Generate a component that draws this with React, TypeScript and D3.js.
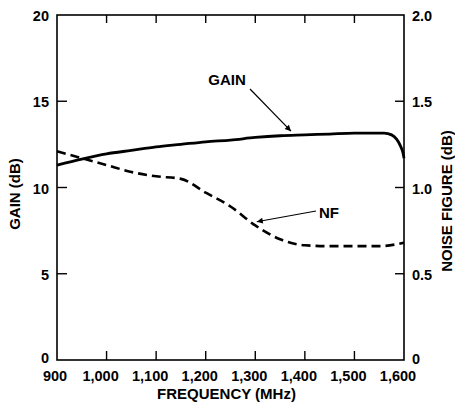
import React, { useEffect, useRef } from "react";
import * as d3 from "d3";

// frequency (MHz) and gain (dB)
const gainFreq = [900, 950, 1000, 1050, 1100, 1150, 1200, 1250, 1300, 1350, 1400, 1450, 1500, 1560, 1575, 1585, 1593, 1598, 1600];
const gainVals = [11.3, 11.65, 11.95, 12.15, 12.35, 12.5, 12.65, 12.75, 12.9, 13.0, 13.05, 13.1, 13.15, 13.15, 13.05, 12.8, 12.4, 12.0, 11.7];

// noise figure (dB), right axis
const nfFreq = [900, 950, 1000, 1050, 1100, 1150, 1200, 1250, 1300, 1350, 1400, 1450, 1500, 1550, 1600];
const nfVals = [1.21, 1.17, 1.13, 1.09, 1.065, 1.05, 0.97, 0.89, 0.78, 0.7, 0.665, 0.66, 0.66, 0.66, 0.68];

const freqTicks = [900, 1000, 1100, 1200, 1300, 1400, 1500, 1600];
const gainTicks = [0, 5, 10, 15, 20];
const nfTicks = [0, 0.5, 1.0, 1.5, 2.0];

const FONT = "'Liberation Sans', Arial, Helvetica, sans-serif";

export default function App() {
  const ref = useRef<SVGSVGElement>(null);

  useEffect(() => {
    const svg = d3.select(ref.current);
    svg.selectAll("*").remove();

    const left = 57, right = 404, top = 15, bottom = 360;

    const x = d3.scaleLinear().domain([900, 1600]).range([left, right]);
    const yG = d3.scaleLinear().domain([0, 20]).range([bottom, top]);
    const yN = d3.scaleLinear().domain([0, 2]).range([bottom, top]);

    const defs = svg.append("defs");
    defs.append("marker")
      .attr("id", "arrow")
      .attr("viewBox", "0 0 10 10")
      .attr("refX", 10).attr("refY", 5)
      .attr("markerWidth", 9).attr("markerHeight", 6)
      .attr("markerUnits", "userSpaceOnUse")
      .attr("orient", "auto")
      .append("path").attr("d", "M0,0 L10,5 L0,10 Z").attr("fill", "#000");

    // frame
    svg.append("rect")
      .attr("x", left).attr("y", top)
      .attr("width", right - left).attr("height", bottom - top)
      .attr("fill", "none").attr("stroke", "#000").attr("stroke-width", 1.6);

    // inner ticks on x (bottom + top)
    const inner = freqTicks.slice(1, -1);
    svg.append("g").selectAll("line").data(inner).join("line")
      .attr("x1", d => x(d)).attr("x2", d => x(d))
      .attr("y1", bottom).attr("y2", bottom - 9)
      .attr("stroke", "#000").attr("stroke-width", 1.4);
    svg.append("g").selectAll("line").data(inner).join("line")
      .attr("x1", d => x(d)).attr("x2", d => x(d))
      .attr("y1", top).attr("y2", top + 8)
      .attr("stroke", "#000").attr("stroke-width", 1.4);

    // inner ticks on y
    svg.append("g").selectAll("line").data(gainTicks.slice(1, -1)).join("line")
      .attr("x1", left).attr("x2", left + 10)
      .attr("y1", d => yG(d)).attr("y2", d => yG(d))
      .attr("stroke", "#000").attr("stroke-width", 1.4);
    svg.append("g").selectAll("line").data(nfTicks.slice(1, -1)).join("line")
      .attr("x1", right).attr("x2", right - 9)
      .attr("y1", d => yN(d)).attr("y2", d => yN(d))
      .attr("stroke", "#000").attr("stroke-width", 1.4);

    // tick labels (the printed labels sit a little left of their ticks)
    svg.append("g").selectAll("text").data(freqTicks).join("text")
      .attr("x", d => x(d) + (d === 900 ? -2 : -6)).attr("y", 381)
      .attr("text-anchor", "middle")
      .style("font-family", FONT).style("font-weight", "bold").style("font-size", "14.5px")
      .text(d => d3.format(",")(d));
    svg.append("g").selectAll("text").data(gainTicks).join("text")
      .attr("x", 49).attr("y", d => yG(d) + (d === 0 ? 3 : 6))
      .attr("text-anchor", "end")
      .style("font-family", FONT).style("font-weight", "bold").style("font-size", "14.5px")
      .text(d => d);
    svg.append("g").selectAll("text").data(nfTicks).join("text")
      .attr("x", 412).attr("y", d => yN(d) + (d === 0 ? 4 : 6))
      .attr("text-anchor", "start")
      .style("font-family", FONT).style("font-weight", "bold").style("font-size", "14.5px")
      .text(d => d3.format(".1f")(d).replace(/^0\.0$/, "0"));

    // axis titles
    svg.append("text")
      .attr("x", (left + right) / 2 - 4).attr("y", 399)
      .attr("text-anchor", "middle")
      .style("font-family", FONT).style("font-weight", "bold").style("font-size", "15px")
      .text("FREQUENCY (MHz)");
    svg.append("text")
      .attr("transform", "translate(20,194) rotate(-90)")
      .attr("text-anchor", "middle")
      .style("font-family", FONT).style("font-weight", "bold").style("font-size", "15px")
      .text("GAIN (dB)");
    svg.append("text")
      .attr("transform", "translate(452,201) rotate(-90)")
      .attr("text-anchor", "middle")
      .style("font-family", FONT).style("font-weight", "bold").style("font-size", "15px")
      .text("NOISE FIGURE (dB)");

    // curves
    const gainLine = d3.line<number>()
      .x((d, i) => x(gainFreq[i])).y(d => yG(d))
      .curve(d3.curveMonotoneX);
    svg.append("path").attr("d", gainLine(gainVals))
      .attr("fill", "none").attr("stroke", "#000").attr("stroke-width", 2.8);

    const nfLine = d3.line<number>()
      .x((d, i) => x(nfFreq[i])).y(d => yN(d))
      .curve(d3.curveMonotoneX);
    svg.append("path").attr("d", nfLine(nfVals))
      .attr("fill", "none").attr("stroke", "#000").attr("stroke-width", 2.6)
      .attr("stroke-dasharray", "9,5");

    // annotations
    svg.append("text")
      .attr("x", 227).attr("y", 85)
      .attr("text-anchor", "middle")
      .style("font-family", FONT).style("font-weight", "bold").style("font-size", "15px")
      .text("GAIN");
    svg.append("line")
      .attr("x1", 250).attr("y1", 89)
      .attr("x2", x(1372)).attr("y2", yG(13.15) - 2)
      .attr("stroke", "#000").attr("stroke-width", 1.2)
      .attr("marker-end", "url(#arrow)");

    svg.append("text")
      .attr("x", 319).attr("y", 218)
      .attr("text-anchor", "start")
      .style("font-family", FONT).style("font-weight", "bold").style("font-size", "15px")
      .text("NF");
    svg.append("line")
      .attr("x1", 316).attr("y1", 211)
      .attr("x2", x(1303)).attr("y2", yN(0.79) - 2)
      .attr("stroke", "#000").attr("stroke-width", 1.2)
      .attr("marker-end", "url(#arrow)");
  }, []);

  return (
    <svg ref={ref} width={455} height={402}
      style={{ position: "absolute", left: 0, top: 0, background: "#fff" }} />
  );
}
